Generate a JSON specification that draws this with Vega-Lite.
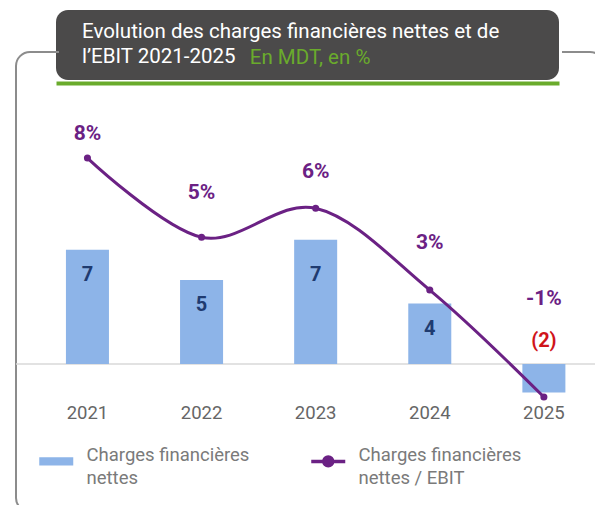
{
  "$schema": "https://vega.github.io/schema/vega-lite/v6.json",
  "padding": {"left": 14, "top": 10, "right": -9, "bottom": -7},
  "columns": 1,
  "spacing": -32,
  "align": "none",
  "resolve": {"legend": {"color": "independent"}, "scale": {"color": "independent"}},
  "config": {"font": "Roboto"},
  "concat": [
    {
      "spacing": 0,
      "hconcat": [
        {
          "width": 37,
          "height": 70,
          "view": {"fill": "#ffffff", "fillOpacity": 0, "stroke": null},
          "data": {"values": []},
          "mark": {"type": "point"}
        },
        {
          "width": 503,
          "height": 70,
          "view": {"fill": "#4b4a4a", "stroke": null, "cornerRadius": 12},
          "title": {
            "text": ["Evolution des charges financières nettes et de", "l’EBIT 2021-2025"],
            "subtitle": "\u200b\u00a0\u00a0\u00a0\u00a0\u00a0\u00a0\u00a0\u00a0\u00a0\u00a0\u00a0\u00a0\u00a0\u00a0\u00a0\u00a0\u00a0\u00a0\u00a0\u00a0\u00a0\u00a0\u00a0\u00a0\u00a0\u00a0\u00a0\u00a0\u00a0\u00a0\u00a0\u00a0\u00a0En MDT, en %",
            "anchor": "start",
            "orient": "top",
            "frame": "group",
            "color": "#ffffff",
            "font": "Roboto",
            "fontSize": 20.5,
            "fontWeight": "normal",
            "lineHeight": 25,
            "subtitleColor": "#6aab2c",
            "subtitleFont": "Roboto",
            "subtitleFontSize": 20.5,
            "subtitlePadding": -19.5,
            "dx": 26,
            "offset": -58.5
          },
          "data": {"values": [{"k": 0}]},
          "mark": {"type": "point", "opacity": 0},
          "encoding": {
            "x": {"field": "k", "type": "quantitative", "scale": {"domain": [0, 1]},
              "axis": {"orient": "bottom", "domain": true, "domainColor": "#6aab2c", "domainWidth": 4, "domainCap": "butt", "labels": false, "ticks": false, "grid": false, "title": null, "offset": 3}},
            "y": {"field": "k", "type": "quantitative", "scale": {"domain": [0, 1]}, "axis": null}
          }
        }
      ]
    },
    {
      "width": 588,
      "height": 460,
      "view": {"stroke": "#8c8c8c", "strokeWidth": 2, "cornerRadius": 14, "strokeDash": [29, 503, 5000, 0]},
      "data": {"values": [
        {"year": "2021", "charges": 6.8, "charges_label": "7", "ratio": 7.8, "ratio_label": "8%"},
        {"year": "2022", "charges": 5.0, "charges_label": "5", "ratio": 4.8, "ratio_label": "5%"},
        {"year": "2023", "charges": 7.4, "charges_label": "7", "ratio": 5.9, "ratio_label": "6%"},
        {"year": "2024", "charges": 3.6, "charges_label": "4", "ratio": 2.8, "ratio_label": "3%"},
        {"year": "2025", "charges": -1.7, "charges_label": "(2)", "ratio": -1.25, "ratio_label": "-1%"}
      ]},
      "layer": [
        {
          "layer": [
            {
              "transform": [{"filter": "datum.year == '2021'"}],
              "mark": {"type": "rule", "color": "#d9d9d9", "strokeWidth": 1.5},
              "encoding": {
                "y": {"datum": 0, "type": "quantitative", "scale": {"domain": [-8.81, 18.571], "nice": false}, "axis": null}
              }
            },
            {
              "mark": {"type": "bar"},
              "encoding": {
                "x": {"field": "year", "type": "nominal", "scale": {"paddingInner": 0.623, "paddingOuter": 0.388, "align": 0.564},
                  "axis": {"orient": "bottom", "offset": -113, "domain": false, "ticks": false, "grid": false, "labelPadding": 4, "labelFontSize": 18.5, "labelColor": "#666666", "labelFont": "Roboto", "labelAngle": 0, "title": null}},
                "y": {"field": "charges", "type": "quantitative", "scale": {"domain": [-8.81, 18.571], "nice": false}, "axis": null},
                "color": {
                  "datum": "Charges financières nettes",
                  "type": "nominal",
                  "scale": {"domain": ["Charges financières nettes", "Charges financières nettes / EBIT"], "range": ["#8db4e8", "#6b2184"]},
                  "legend": {
                    "orient": "bottom-left",
                    "offset": 24,
                    "direction": "horizontal",
                    "columns": 2,
                    "title": null,
                    "symbolSize": 1156,
                    "symbolOffset": 7,
                    "labelFont": "Roboto",
                    "labelFontSize": 18.5,
                    "labelColor": "#7a7a7a",
                    "labelOffset": 21,
                    "labelLimit": 400,
                    "columnPadding": 54,
                    "labelBaseline": "alphabetic",
                    "labelExpr": "datum.value == 'Charges financières nettes' ? ['Charges financières', 'nettes'] : ['Charges financières', 'nettes / EBIT']",
                    "encode": {
                      "symbols": {"update": {
                        "shape": {"signal": "datum.value == 'Charges financières nettes' ? 'M-1,-0.24H1V0.24H-1Z' : 'M-1,0H1M0.26,0A0.26,0.26,0,1,1,-0.26,0A0.26,0.26,0,1,1,0.26,0Z'"},
                        "fill": {"signal": "datum.value == 'Charges financières nettes' ? '#8db4e8' : '#6b2184'"},
                        "stroke": {"signal": "datum.value == 'Charges financières nettes' ? '#8db4e8' : '#6b2184'"},
                        "strokeWidth": {"signal": "datum.value == 'Charges financières nettes' ? 0 : 3.5"},
                        "opacity": {"value": 1},
                        "fillOpacity": {"value": 1},
                        "strokeOpacity": {"value": 1}
                      }},
                      "labels": {"update": {"lineHeight": {"value": 23}}}
                    }
                  }
                }
              }
            },
            {
              "mark": {"type": "text", "font": "Roboto", "fontWeight": "bold", "fontSize": 20, "baseline": "middle",
                "dy": {"expr": "datum.charges < 0 ? -52 : (datum.year == '2023' ? 35 : 25)"}},
              "encoding": {
                "x": {"field": "year", "type": "nominal"},
                "y": {"field": "charges", "type": "quantitative", "scale": {"domain": [-8.81, 18.571], "nice": false}, "axis": null},
                "text": {"field": "charges_label"},
                "color": {"condition": {"test": "datum.charges < 0", "value": "#d0141b"}, "value": "#1f3b70"}
              }
            }
          ]
        },
        {
          "layer": [
            {
              "mark": {"type": "line", "interpolate": "cardinal", "strokeWidth": 3, "point": {"filled": true, "size": 50}},
              "encoding": {
                "x": {"field": "year", "type": "nominal"},
                "y": {"field": "ratio", "type": "quantitative", "scale": {"domain": [-5.606, 11.818], "nice": false}, "axis": null},
                "color": {"datum": "Charges financières nettes / EBIT", "type": "nominal"}
              }
            },
            {
              "mark": {"type": "text", "font": "Roboto", "fontWeight": "bold", "fontSize": 21, "baseline": "middle", "color": "#6b2184",
                "dy": {"expr": "datum.year == '2021' ? -24 : datum.year == '2022' ? -44 : datum.year == '2023' ? -36 : datum.year == '2024' ? -47 : -98"}},
              "encoding": {
                "x": {"field": "year", "type": "nominal"},
                "y": {"field": "ratio", "type": "quantitative", "scale": {"domain": [-5.606, 11.818], "nice": false}, "axis": null},
                "text": {"field": "ratio_label"}
              }
            }
          ]
        }
      ],
      "resolve": {"scale": {"y": "independent"}}
    }
  ]
}
